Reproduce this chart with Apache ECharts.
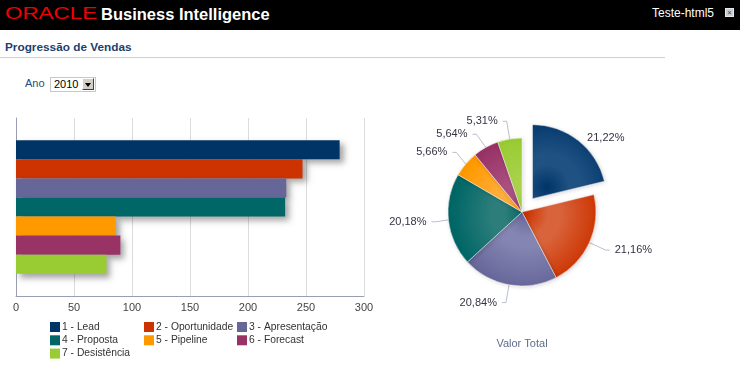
<!DOCTYPE html>
<html>
<head>
<meta charset="utf-8">
<script src="https://cdn.jsdelivr.net/npm/echarts@6/dist/echarts.min.js"></script>
<style>
  html, body { margin:0; padding:0; width:740px; height:372px; overflow:hidden; background:#fff; font-family:'Liberation Sans', Arial, sans-serif; }
  #hdr { position:absolute; left:0; top:0; width:740px; height:30px; background:#000; }
  #oracle { position:absolute; left:5px; top:5px; color:#f00000; font-size:16px; line-height:18px; letter-spacing:0; transform-origin:0 0; transform:scaleX(1.4); font-weight:normal; }
  #bi { position:absolute; left:101px; top:4px; color:#fff; font-size:16.5px; line-height:20px; font-weight:bold; }
  #user { position:absolute; left:652px; top:6px; color:#fff; font-size:12px; line-height:15px; }
  #closeb { position:absolute; left:725px; top:8px; width:7px; height:7px; background:#c8ccd4; border:1px solid #e8e8e8; color:#333; font-size:7px; line-height:7px; text-align:center; }
  #title { position:absolute; left:5px; top:40px; color:#1c3f6e; font-size:11.8px; line-height:15px; font-weight:bold; }
  #rule { position:absolute; left:0; top:57px; width:665px; height:1px; background:#cfcfcf; }
  #ano { position:absolute; left:25px; top:77px; color:#2a4a80; font-size:11px; line-height:13px; }
  #sel { position:absolute; left:50px; top:77px; width:44px; height:13px; border:1px solid #c8c8c8; background:#fff; }
  #selt { position:absolute; left:3px; top:0px; font-size:11px; line-height:13px; color:#000; }
  #selb { position:absolute; left:31px; top:0px; width:12px; height:12px; background:#d4d0c8; border-top:1px solid #fff; border-left:1px solid #fff; border-right:1px solid #404040; border-bottom:1px solid #404040; box-sizing:border-box; }
  #tri { position:absolute; left:2px; top:4px; width:0; height:0; border-left:3.5px solid transparent; border-right:3.5px solid transparent; border-top:4px solid #000; }
  #chart { position:absolute; left:0; top:0; width:740px; height:372px; }
</style>
</head>
<body>
<div id="hdr">
  <div id="oracle">ORACLE</div>
  <div id="bi">Business Intelligence</div>
  <div id="user">Teste-html5</div>
  <div id="closeb">×</div>
</div>
<div id="title">Progressão de Vendas</div>
<div id="rule"></div>
<div id="ano">Ano</div>
<div id="sel"><div id="selt">2010</div><div id="selb"><div id="tri"></div></div></div>
<div id="chart"></div>
<script>
const categories = ['1 - Lead', '2 - Oportunidade', '3 - Apresentação', '4 - Proposta', '5 - Pipeline', '6 - Forecast', '7 - Desistência'];
const barValues = [279, 247, 233, 232, 86, 90, 78];
const pieShares = [21.22, 21.16, 20.84, 20.18, 5.66, 5.64, 5.31];
const xTickMin = 0, xTickMax = 300, xTickStep = 50;
const colors = ['#003366', '#cc3300', '#666699', '#006666', '#ff9900', '#993366', '#99cc33'];
const lightColors = ['#1f5283', '#d9643c', '#8585b3', '#2d7e7b', '#ffad3a', '#aa5080', '#aad24c'];
const pieTitle = 'Valor Total';

const FONT = "'Liberation Sans', Arial, sans-serif";
const pieCenter = [522, 212];
const pieRadius = 74;
const explodeOffset = 17;

const chart = echarts.init(document.getElementById('chart'), null, { renderer: 'canvas' });

const barSeries = categories.map((name, i) => ({
  name: name,
  type: 'bar',
  xAxisIndex: 0, yAxisIndex: 0,
  data: [barValues[i]],
  barGap: '0%',
  barCategoryGap: '25%',
  itemStyle: {
    color: colors[i],
    shadowColor: 'rgba(0,0,0,0.35)',
    shadowBlur: 6,
    shadowOffsetX: 4,
    shadowOffsetY: 4
  },
  emphasis: { disabled: true },
  z: 3
}));

const total = pieShares.reduce((a, b) => a + b, 0);
const midA = (pieShares[0] / total) * Math.PI;
const leadCenter = [pieCenter[0] + Math.sin(midA) * explodeOffset, pieCenter[1] - Math.cos(midA) * explodeOffset];

const pieData = categories.map((name, i) => {
  const c = i === 0 ? leadCenter : pieCenter;
  const item = {
    name: name,
    value: pieShares[i],
    selected: i === 0,
    itemStyle: {
      color: {
        type: 'radial', x: c[0] + 4, y: c[1] + 2, r: pieRadius, global: true,
        colorStops: [
          { offset: 0, color: colors[i] },
          { offset: 0.3, color: lightColors[i] },
          { offset: 0.45, color: lightColors[i] },
          { offset: 1, color: colors[i] }
        ]
      }
    }
  };
  if (i === 0) item.labelLine = { length: 3, length2: 2, show: false };
  return item;
});

const option = {
  animation: false,
  textStyle: { fontFamily: FONT },
  grid: { left: 16, right: 376, top: 118, bottom: 76, containLabel: false },
  xAxis: {
    type: 'value', min: xTickMin, max: xTickMax, interval: xTickStep,
    axisLine: { show: true, lineStyle: { color: '#9a9eb4', width: 1 } },
    axisTick: { show: false },
    axisLabel: { color: '#444', fontSize: 11, margin: 6, fontFamily: FONT },
    splitLine: { show: true, lineStyle: { color: '#dcdcdc', width: 1 } }
  },
  yAxis: {
    type: 'category', data: ['Vendas'], inverse: true,
    axisLine: { show: true, lineStyle: { color: '#9a9eb4', width: 1 } },
    axisTick: { show: false },
    axisLabel: { show: false },
    splitLine: { show: false }
  },
  legend: [
    { data: [categories[0], categories[3], categories[6]], left: 50, top: 322 },
    { data: [categories[1], categories[4]], left: 144, top: 322 },
    { data: [categories[2], categories[5]], left: 237, top: 322 }
  ].map(l => Object.assign({
    orient: 'vertical', icon: 'rect', itemWidth: 10, itemHeight: 10, itemGap: 3.3,
    padding: 0, selectedMode: false,
    textStyle: { color: '#333', fontSize: 10.3, fontFamily: FONT, padding: [0, 0, 0, -3] }
  }, l)),
  graphic: [
    { type: 'text', x: pieCenter[0], y: 344, style: { text: pieTitle, fill: '#5f6e8c', font: '11px ' + FONT, textAlign: 'center', textVerticalAlign: 'middle' } }
  ],
  series: barSeries.concat([{
    type: 'pie',
    center: pieCenter,
    radius: pieRadius,
    startAngle: 90,
    clockwise: true,
    selectedMode: 'single',
    selectedOffset: explodeOffset,
    avoidLabelOverlap: true,
    data: pieData,
    emphasis: { disabled: true },
    itemStyle: { borderColor: 'rgba(255,255,255,0.45)', borderWidth: 1, shadowColor: 'rgba(0,0,0,0.15)', shadowBlur: 4, shadowOffsetX: 1, shadowOffsetY: 1 },
    label: {
      show: true, color: '#333344', fontSize: 11, fontFamily: FONT,
      formatter: p => p.value.toFixed(2).replace('.', ',') + '%'
    },
    labelLine: { show: true, length: 18, length2: 4, lineStyle: { color: '#b8c0cc', width: 1 } }
  }])
};
chart.setOption(option);
</script>
</body>
</html>
